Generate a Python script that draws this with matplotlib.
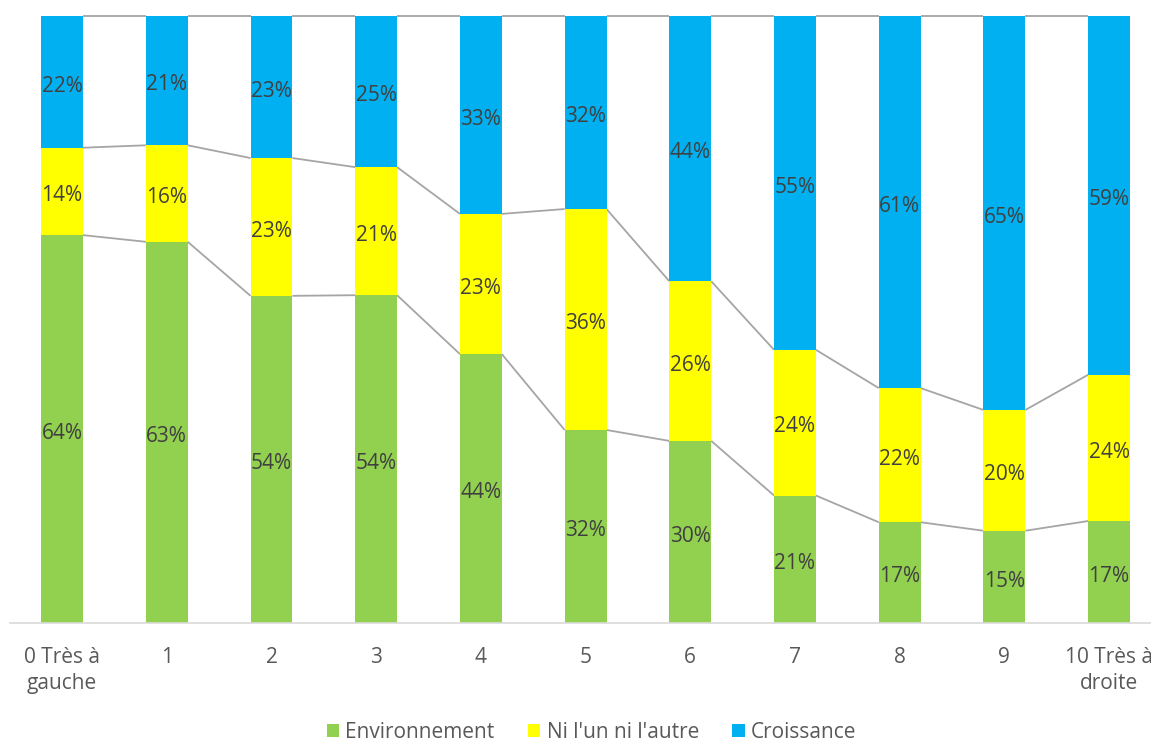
import matplotlib.pyplot as plt
import matplotlib.transforms as mtransforms
import numpy as np

# Data (shares in %)
categories = ["0 Très à\ngauche", "1", "2", "3", "4", "5", "6", "7", "8", "9", "10 Très à\ndroite"]
environnement = [63.9, 62.8, 53.9, 54.0, 44.3, 31.8, 30.0, 21.0, 16.6, 15.2, 16.8]
ni_lun = [14.4, 15.9, 22.7, 21.1, 23.1, 36.4, 26.3, 24.0, 22.1, 19.9, 24.1]
croissance = [21.7, 21.3, 23.4, 24.9, 32.6, 31.8, 43.7, 55.0, 61.3, 64.9, 59.1]
series_names = ["Environnement", "Ni l'un ni l'autre", "Croissance"]
colors = ["#92D050", "#FFFF00", "#00B0F0"]

plt.rcParams['font.family'] = ['Open Sans', 'DejaVu Sans']

fig = plt.figure(figsize=(11.51, 7.44), dpi=100)
ax = fig.add_axes([10 / 1151, 121 / 744, 1141 / 1151, 607 / 744])

# labels sit a touch below the segment centre, as in the original
label_trans = mtransforms.offset_copy(ax.transData, fig=fig, y=-3, units='points')

x = np.arange(len(categories))
width = 0.4
series = [environnement, ni_lun, croissance]
bottom = np.zeros(len(categories))
handles = []
for vals, name, col in zip(series, series_names, colors):
    vals = np.array(vals)
    b = ax.bar(x, vals, width, bottom=bottom, color=col, label=name, zorder=2)
    handles.append(b)
    for xi, v, bo in zip(x, vals, bottom):
        ax.text(xi, bo + v / 2, f"{round(v):d}%", ha='center', va='center',
                fontsize=15, color='#404040', zorder=3, transform=label_trans)
    bottom = bottom + vals
    # series lines connecting the tops of the segments
    for i in range(len(categories) - 1):
        ax.plot([x[i] + width / 2, x[i + 1] - width / 2], [bottom[i], bottom[i + 1]],
                color='#A5A5A5', lw=1.3, zorder=1, solid_capstyle='butt', clip_on=False)

ax.set_xlim(-0.497, 10.40)
ax.set_ylim(0, 100)
ax.set_yticks([])
ax.set_xticks(x)
ax.set_xticklabels(categories, fontsize=15, color='#595959', linespacing=1.35)
ax.tick_params(axis='x', length=0, pad=17)
for side in ['top', 'right', 'left']:
    ax.spines[side].set_visible(False)
ax.spines['bottom'].set_color('#D9D9D9')
ax.spines['bottom'].set_linewidth(1.2)

fig.legend(handles=handles, labels=series_names, loc='lower center', ncol=3,
           bbox_to_anchor=(0.514, -0.024), frameon=False, fontsize=15,
           handlelength=0.6, handleheight=0.6, handletextpad=0.3, columnspacing=1.6,
           labelcolor='#595959')

fig.savefig("out.png", dpi=100)
